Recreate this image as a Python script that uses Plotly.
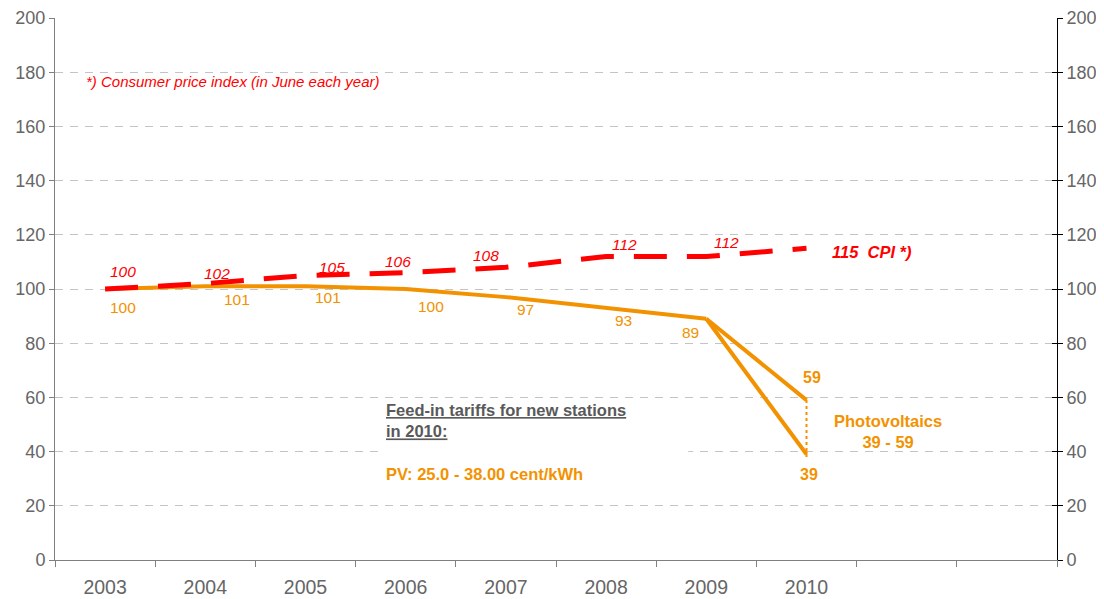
import plotly.graph_objects as go

# ---- data ----
years = [2003, 2004, 2005, 2006, 2007, 2008, 2009, 2010]
cpi = [100, 102, 105, 106, 108, 112, 112, 115]
tariff_years = [2003, 2004, 2005, 2006, 2007, 2008, 2009]
tariff = [100, 101, 101, 100, 97, 93, 89]
pv_high = 59
pv_low = 39
year_labels = ["2003", "2004", "2005", "2006", "2007", "2008", "2009", "2010"]
y_ticks = [0, 20, 40, 60, 80, 100, 120, 140, 160, 180, 200]

# label offsets (style, not data)
cpi_dx = [0.18, 0.12, 0.26, -0.08, -0.20, 0.18, 0.20]
cpi_dy = [6.3, 3.9, 3.1, 4.0, 4.2, 4.6, 5.0]
tar_dx = [0.18, 0.32, 0.22, 0.25, 0.20, 0.17, -0.16]
tar_dy = [-7.0, -4.7, -4.3, -6.3, -4.7, -4.8, -5.2]

ORANGE = "#F39200"
RED = "#FF0000"
GREY = "#666666"
FONT = "Liberation Sans, Arial, sans-serif"

x_lo, x_hi = 2002.5, 2012.5

fig = go.Figure()

# white box behind the feed-in note (hides gridline)
fig.add_shape(type="rect", xref="x", yref="y", x0=2005.73, x1=2008.82, y0=27, y1=59,
              fillcolor="white", line=dict(width=0), layer="between")

# helper empty traces so the overlay axes get drawn
fig.add_trace(go.Scatter(x=[None], y=[None], xaxis="x2", yaxis="y", mode="lines",
                         hoverinfo="skip", showlegend=False))
fig.add_trace(go.Scatter(x=[None], y=[None], xaxis="x", yaxis="y2", mode="lines",
                         hoverinfo="skip", showlegend=False))
fig.add_trace(go.Scatter(x=[None], y=[None], xaxis="x", yaxis="y3", mode="lines",
                         hoverinfo="skip", showlegend=False))

# tariff main line
fig.add_trace(go.Scatter(x=tariff_years, y=tariff, mode="lines",
                         line=dict(color=ORANGE, width=4), hoverinfo="skip", showlegend=False))
# branches to 2010
fig.add_trace(go.Scatter(x=[tariff_years[-1], years[-1]], y=[tariff[-1], pv_high], mode="lines",
                         line=dict(color=ORANGE, width=4), hoverinfo="skip", showlegend=False))
fig.add_trace(go.Scatter(x=[tariff_years[-1], years[-1]], y=[tariff[-1], pv_low], mode="lines",
                         line=dict(color=ORANGE, width=4), hoverinfo="skip", showlegend=False))
# dotted range
fig.add_trace(go.Scatter(x=[years[-1], years[-1]], y=[pv_high, pv_low - 2], mode="lines",
                         line=dict(color=ORANGE, width=2, dash="dot"), hoverinfo="skip", showlegend=False))
# CPI dashed
fig.add_trace(go.Scatter(x=years, y=cpi, mode="lines",
                         line=dict(color=RED, width=5, dash="33px,20px"), hoverinfo="skip", showlegend=False))

ann = []
for i in range(len(years) - 1):
    ann.append(dict(x=years[i] + cpi_dx[i], y=cpi[i] + cpi_dy[i], text="<i>%d</i>" % cpi[i],
                    showarrow=False, font=dict(family=FONT, size=15.5, color=RED),
                    xanchor="center", yanchor="middle"))
ann.append(dict(x=years[-1] + 0.23, y=cpi[-1] - 1.3, text="<b><i>%d  CPI *)</i></b>" % cpi[-1],
                showarrow=False, xanchor="left", yanchor="middle",
                font=dict(family=FONT, size=16.5, color=RED)))
for i in range(len(tariff_years)):
    ann.append(dict(x=tariff_years[i] + tar_dx[i], y=tariff[i] + tar_dy[i], text=str(tariff[i]),
                    showarrow=False, font=dict(family=FONT, size=15.5, color=ORANGE),
                    xanchor="center", yanchor="middle"))
ann.append(dict(x=years[-1] + 0.05, y=pv_high + 8.2, text="<b>%d</b>" % pv_high, showarrow=False,
                font=dict(family=FONT, size=16, color=ORANGE), xanchor="center", yanchor="middle"))
ann.append(dict(x=years[-1] + 0.02, y=pv_low - 7.6, text="<b>%d</b>" % pv_low, showarrow=False,
                font=dict(family=FONT, size=16, color=ORANGE), xanchor="center", yanchor="middle"))
ann.append(dict(x=years[-1] + 0.81, y=47.6, text="<b>Photovoltaics<br>%d - %d</b>" % (pv_low, pv_high),
                showarrow=False, align="center", font=dict(family=FONT, size=16.5, color=ORANGE),
                xanchor="center", yanchor="middle"))
ann.append(dict(x=2002.79, y=176.4, text="<i>*) Consumer price index (in June each year)</i>",
                showarrow=False, xanchor="left", yanchor="middle",
                font=dict(family=FONT, size=15, color=RED)))
ann.append(dict(x=2005.78, y=51.3, text="<b><u>Feed-in tariffs for new stations<br>in 2010:</u></b>",
                showarrow=False, xanchor="left", yanchor="middle", align="left",
                font=dict(family=FONT, size=16.5, color="#595959")))
ann.append(dict(x=2005.78, y=31.7, text="<b>PV: 25.0 - 38.00 cent/kWh</b>",
                showarrow=False, xanchor="left", yanchor="middle", align="left",
                font=dict(family=FONT, size=16.5, color=ORANGE)))

boundaries = [x_lo + k for k in range(11)]

# page body has an 8px margin, so the figure is sized to fit inside the window
fig.update_layout(
    width=1096, height=591,
    margin=dict(l=47, r=47, t=10, b=39),
    paper_bgcolor="white", plot_bgcolor="white",
    font=dict(family=FONT, color=GREY),
    annotations=ann,
    xaxis=dict(range=[x_lo, x_hi], tickmode="array", tickvals=years, ticktext=year_labels,
               ticks="", showgrid=False, zeroline=False, showline=True, linecolor="#808080",
               linewidth=1, tickfont=dict(size=19.5, color=GREY), ticklabelstandoff=10,
               automargin=False),
    xaxis2=dict(range=[x_lo, x_hi], overlaying="x", anchor="y", side="bottom", tickmode="array",
                tickvals=boundaries, ticks="outside", ticklen=6, tickcolor="#808080",
                showticklabels=False, showgrid=False, zeroline=False, showline=False,
                automargin=False),
    yaxis=dict(range=[0, 200], tickmode="array", tickvals=y_ticks, ticks="outside", ticklen=5,
               tickcolor="#808080", showline=True, linecolor="#808080", linewidth=1,
               showgrid=True, gridcolor="#C4C4C4", griddash="8px,7px", gridwidth=1,
               zeroline=False, tickfont=dict(size=18, color=GREY), automargin=False),
    yaxis2=dict(range=[0, 200], overlaying="y", side="right", anchor="x", tickmode="array",
                tickvals=y_ticks, ticks="outside", ticklen=5, tickcolor="black", showline=True,
                linecolor="black", linewidth=1, showgrid=False, zeroline=False,
                tickfont=dict(size=18, color=GREY), automargin=False),
    yaxis3=dict(range=[0, 200], overlaying="y", side="right", anchor="x", tickmode="array",
                tickvals=y_ticks, ticks="inside", ticklen=5, tickcolor="black", showline=False,
                showgrid=False, zeroline=False, showticklabels=False, automargin=False),
)

fig.write_html("out.html")
